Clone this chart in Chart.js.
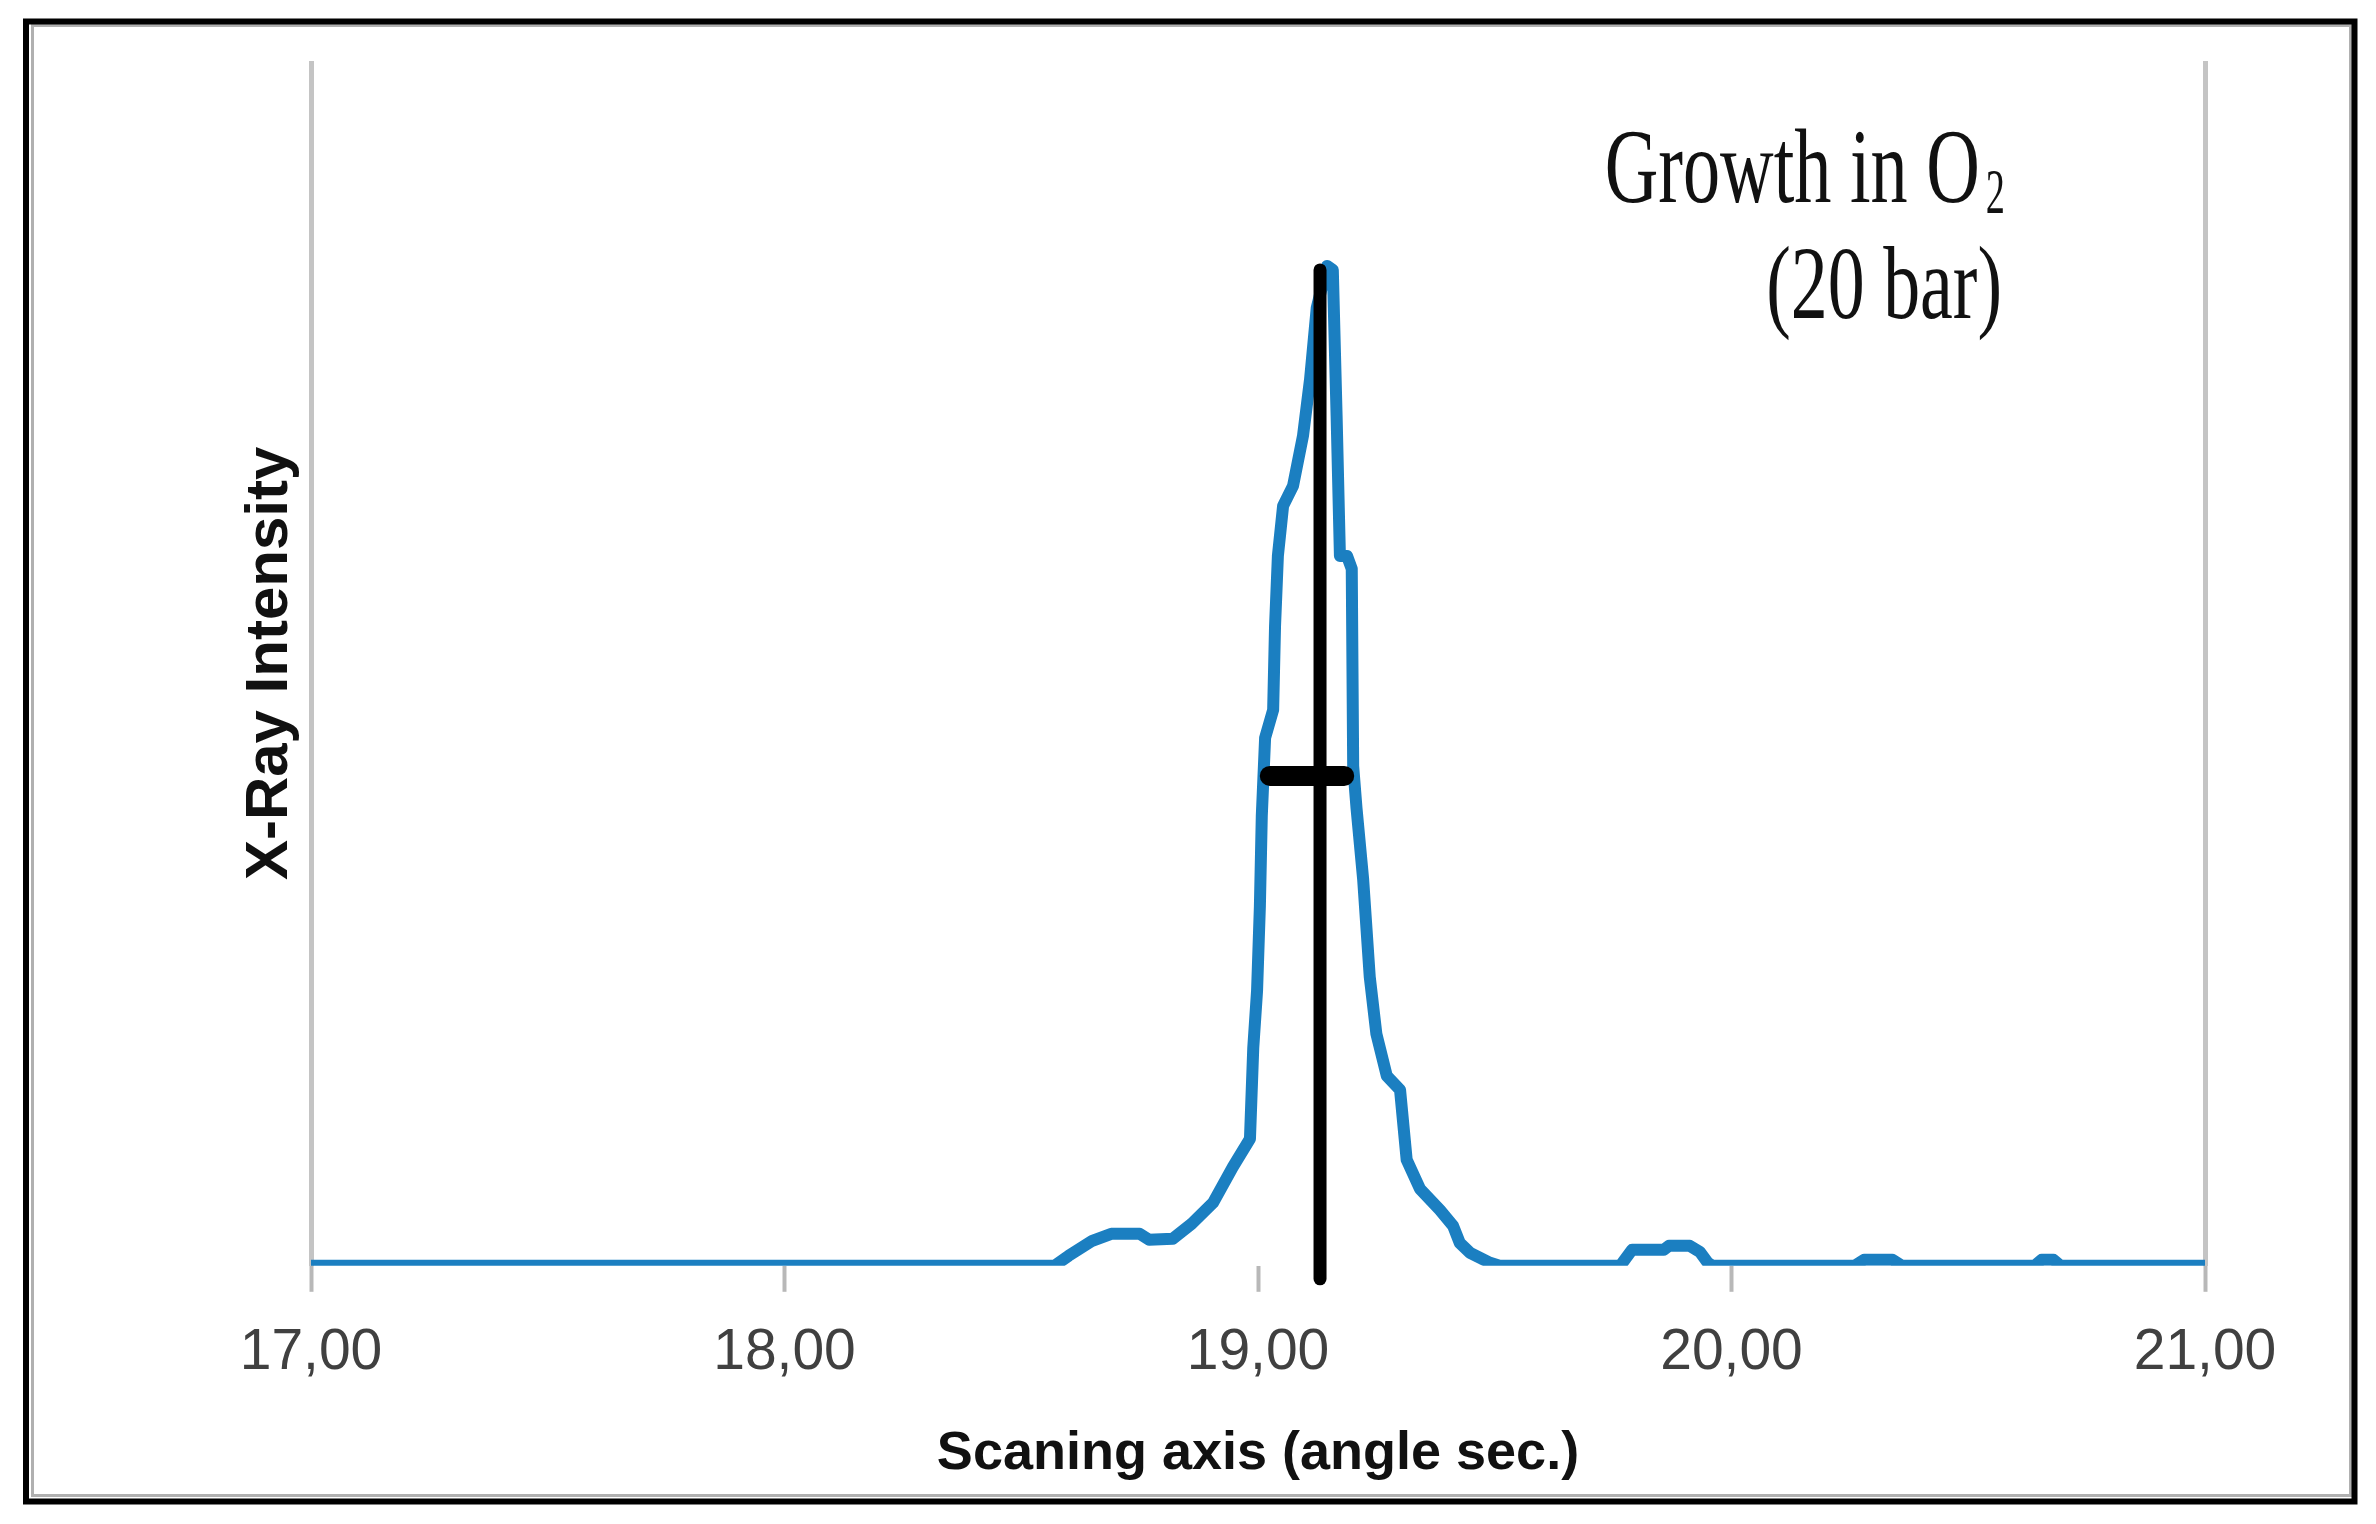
<!DOCTYPE html>
<html>
<head>
<meta charset="utf-8">
<title>X-Ray Intensity - Growth in O2</title>
<script src="https://cdn.jsdelivr.net/npm/chart.js@4.4.1/dist/chart.umd.min.js"></script>
<style>
    html, body { margin: 0; padding: 0; background: #ffffff; }
    #wrap { width: 2376px; height: 1524px; position: relative; }
</style>
</head>
<body>
<div id="wrap"><canvas id="rockingCurve"></canvas></div>
<script>
const scanAngle = [
    17.00, 18.57, 18.60, 18.65, 18.69, 18.75, 18.77, 18.82, 18.86, 18.905,
    18.947, 18.983, 18.99, 18.998, 19.004, 19.008, 19.015, 19.032, 19.036, 19.042,
    19.053, 19.074, 19.095, 19.110, 19.124, 19.146, 19.158, 19.166, 19.173, 19.188,
    19.198, 19.201, 19.208, 19.222, 19.236, 19.250, 19.272, 19.300, 19.314, 19.342,
    19.384, 19.412, 19.426, 19.448, 19.49, 19.51, 19.765, 19.79, 19.857, 19.868,
    19.912, 19.933, 19.95, 19.96, 20.26, 20.28, 20.34, 20.36, 20.64, 20.655,
    20.68, 20.695, 21.00
];
const intensity = [
    0, 0, 1.0, 2.5, 3.2, 3.2, 2.6, 2.7, 4.2, 6.3,
    9.9, 12.7, 21.8, 27.5, 36, 45, 52.8, 55.6, 64, 71,
    76, 78, 83, 88.7, 95.8, 100, 99.6, 85, 71, 71,
    69.7, 50, 45.8, 38.7, 28.9, 23.2, 19, 17.6, 10.6, 7.7,
    5.6, 4.0, 2.3, 1.3, 0.3, 0, 0, 1.6, 1.6, 2.0,
    2.0, 1.4, 0.3, 0, 0, 0.6, 0.6, 0, 0, 0.6,
    0.6, 0, 0
];

// Peak position marker (vertical) and FWHM marker (horizontal)
const peakMarkerX = [19.131, 19.131];
const peakMarkerY = [-1.3, 99.6];
const fwhmMarkerX = [19.025, 19.182];
const fwhmMarkerY = [49, 49];

const xTickValues = [17, 18, 19, 20, 21];
const xTickLabels = ['17,00', '18,00', '19,00', '20,00', '21,00'];

const toPoints = (xs, ys) => xs.map((x, i) => ({ x: x, y: ys[i] }));

// Draws text squeezed horizontally, right aligned at xRight
function drawNarrowText(ctx, text, xRight, y, font, squeeze) {
    ctx.font = font;
    const w = ctx.measureText(text).width * squeeze;
    ctx.save();
    ctx.translate(xRight - w, y);
    ctx.scale(squeeze, 1);
    ctx.fillText(text, 0, 0);
    ctx.restore();
    return xRight - w;
}

// Frame around the figure and the "Growth in O2 (20 bar)" note
const framePlugin = {
    id: 'framePlugin',
    afterDraw(chart) {
        const ctx = chart.ctx;
        const area = chart.chartArea;
        ctx.save();

        ctx.strokeStyle = '#b0b0b0';
        ctx.lineWidth = 3;
        ctx.strokeRect(32.5, 25.5, chart.width - 58, chart.height - 54);

        ctx.strokeStyle = '#000000';
        ctx.lineWidth = 6;
        ctx.strokeRect(26, 21.5, chart.width - 47.5, chart.height - 44);

        ctx.fillStyle = '#111111';
        ctx.textBaseline = 'alphabetic';
        const subLeft = drawNarrowText(ctx, '2', area.right - 200, area.top + 152, "64px 'Liberation Serif'", 0.6);
        drawNarrowText(ctx, 'Growth in O', subLeft - 6, area.top + 141, "106px 'Liberation Serif'", 0.7);
        drawNarrowText(ctx, '(20 bar)', area.right - 203, area.top + 257, "104px 'Liberation Serif'", 0.71);
        ctx.restore();
    }
};

new Chart(
    document.getElementById('rockingCurve'),
    {
        type: 'line',
        data: {
            datasets: [
                {
                    label: 'Peak',
                    data: toPoints(peakMarkerX, peakMarkerY),
                    borderColor: '#000000',
                    borderWidth: 13,
                    borderCapStyle: 'round',
                    pointRadius: 0,
                    clip: false,
                    order: 0
                },
                {
                    label: 'FWHM',
                    data: toPoints(fwhmMarkerX, fwhmMarkerY),
                    borderColor: '#000000',
                    borderWidth: 20,
                    borderCapStyle: 'round',
                    pointRadius: 0,
                    clip: false,
                    order: 0
                },
                {
                    label: 'Intensity',
                    data: toPoints(scanAngle, intensity),
                    borderColor: '#1b7fc1',
                    borderWidth: 12,
                    borderJoinStyle: 'round',
                    borderCapStyle: 'round',
                    pointRadius: 0,
                    tension: 0,
                    order: 1
                }
            ]
        },
        options: {
            responsive: true,
            maintainAspectRatio: false,
            devicePixelRatio: 1,
            animation: false,
            layout: {
                padding: { top: 61, right: 171, bottom: 30, left: 200 }
            },
            plugins: {
                legend: { display: false },
                tooltip: { enabled: false }
            },
            scales: {
                x: {
                    type: 'linear',
                    min: 17,
                    max: 21,
                    afterBuildTicks: function(scale) {
                        scale.ticks = xTickValues.map(v => ({ value: v }));
                    },
                    ticks: {
                        padding: 27,
                        color: '#404040',
                        font: { family: "'Liberation Sans', sans-serif", size: 57 },
                        callback: function(value, index) {
                            return xTickLabels[index];
                        }
                    },
                    grid: {
                        color: function(context) {
                            return (context.index === 0 || context.index === xTickValues.length - 1) ? '#c4c4c4' : 'rgba(0,0,0,0)';
                        },
                        lineWidth: 5,
                        tickColor: '#b8b8b8',
                        tickWidth: 4,
                        tickLength: 26
                    },
                    border: { display: false },
                    title: {
                        display: true,
                        text: 'Scaning axis (angle sec.)',
                        color: '#111111',
                        font: { family: "'Liberation Sans', sans-serif", size: 54, weight: 'bold' },
                        padding: { top: 8, bottom: 7 }
                    }
                },
                y: {
                    min: 0,
                    max: 120.5,
                    ticks: { display: false },
                    grid: { display: false, drawTicks: false },
                    border: { display: false },
                    title: {
                        display: true,
                        text: 'X-Ray Intensity',
                        color: '#111111',
                        font: { family: "'Liberation Sans', sans-serif", size: 60, weight: 'bold' },
                        padding: { top: 34, bottom: 5 }
                    }
                }
            }
        },
        plugins: [framePlugin]
    }
);
</script>
</body>
</html>
